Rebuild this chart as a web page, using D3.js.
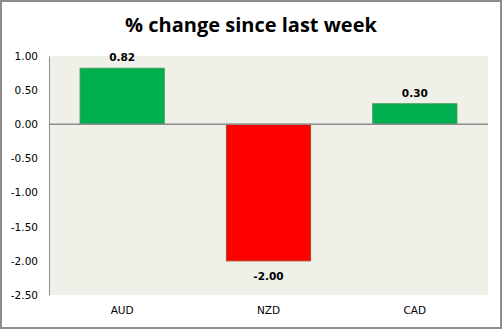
<!DOCTYPE html>
<html><head><meta charset="utf-8">
<script src="https://cdn.jsdelivr.net/npm/d3@7"></script>
<style>html,body{margin:0;padding:0;background:#fff;}svg{display:block;}</style>
</head><body>
<svg id="chart" width="502" height="329"></svg>
<script>
const categories = ["AUD", "NZD", "CAD"];
const values = [0.82, -2.00, 0.30];
const tickValues = [1.0, 0.5, 0.0, -0.5, -1.0, -1.5, -2.0, -2.5];
const title = "% change since last week";

const svg = d3.select("#chart");
const W = 502, H = 329;
const m = {left: 49, right: 14, top: 56, bottom: 34};
const fmt = d => d3.format(".2f")(d).replace("\u2212", "-");

svg.append("rect").attr("x", 1).attr("y", 1).attr("width", W - 2).attr("height", H - 2)
  .attr("fill", "#fff").attr("stroke", "#8c8c8c").attr("stroke-width", 2);

svg.append("text").attr("x", 251).attr("y", 32).attr("text-anchor", "middle")
  .attr("font-family", "'Open Sans', 'Liberation Sans', sans-serif").attr("font-weight", "bold")
  .attr("font-size", 20).attr("fill", "#000").text(title);

const x = d3.scaleBand().domain(categories).range([m.left, W - m.right]).paddingInner(0.425).paddingOuter(0.2125);
const y = d3.scaleLinear().domain([-2.5, 1.0]).range([H - m.bottom, m.top]);

svg.append("rect").attr("x", m.left).attr("y", m.top)
  .attr("width", W - m.right - m.left).attr("height", H - m.bottom - m.top)
  .attr("fill", "#eff0e8");

const yAxis = svg.append("g").attr("transform", `translate(${m.left},0)`)
  .call(d3.axisLeft(y).tickValues(tickValues).tickFormat(fmt).tickSize(0).tickPadding(11));
yAxis.select(".domain").attr("stroke", "#8c8c8c");
yAxis.selectAll("text").attr("font-family", "'DejaVu Sans', Verdana, sans-serif").attr("font-size", 10.5).attr("fill", "#000");

const colors = ["#00b050", "#ff0000", "#00b050"];
const strokes = ["#3c9a50", "#b0451e", "#3c9a50"];

svg.selectAll(".bar").data(values).enter().append("rect")
  .attr("x", (d, i) => x(categories[i]))
  .attr("width", x.bandwidth())
  .attr("y", d => y(Math.max(0, d)))
  .attr("height", d => Math.abs(y(d) - y(0)))
  .attr("fill", (d, i) => colors[i])
  .attr("stroke", (d, i) => strokes[i]).attr("stroke-width", 1);

svg.append("line").attr("x1", m.left).attr("x2", W - m.right).attr("y1", y(0)).attr("y2", y(0))
  .attr("stroke", "#8c8c8c").attr("stroke-width", 1.5);

svg.selectAll(".lbl").data(values).enter().append("text")
  .attr("x", (d, i) => x(categories[i]) + x.bandwidth() / 2)
  .attr("y", d => d >= 0 ? y(d) - 7 : y(d) + 19)
  .attr("text-anchor", "middle")
  .attr("font-family", "'DejaVu Sans', Verdana, sans-serif").attr("font-weight", "bold")
  .attr("font-size", 10.5).attr("fill", "#000")
  .text(d => fmt(d));

const xAxis = svg.append("g").attr("transform", `translate(0,${H - m.bottom})`)
  .call(d3.axisBottom(x).tickSize(0).tickPadding(12));
xAxis.select(".domain").remove();
xAxis.selectAll("text").attr("font-family", "'DejaVu Sans', Verdana, sans-serif").attr("font-size", 10.5).attr("fill", "#000");
</script>
</body></html>
